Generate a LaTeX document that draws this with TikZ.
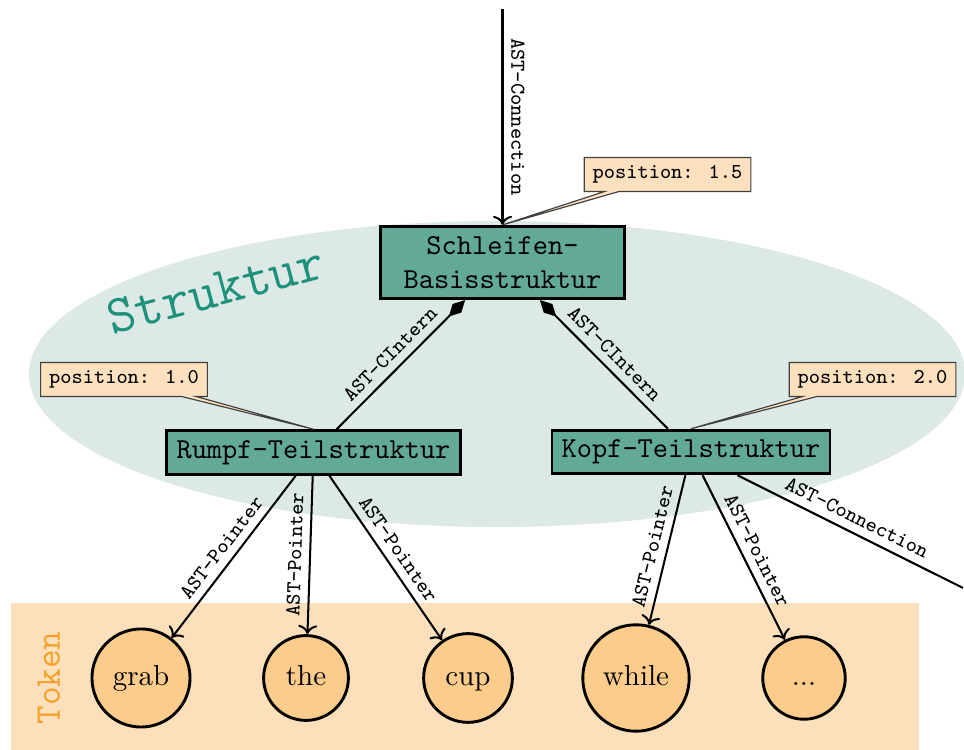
\documentclass[tikz,border=0pt]{standalone}
\usetikzlibrary{arrows.meta,shapes.callouts,calc}
\definecolor{boxteal}{RGB}{99,169,152}
\definecolor{ellfill}{RGB}{220,233,230}
\definecolor{strukcol}{RGB}{30,145,122}
\definecolor{posfill}{RGB}{253,225,190}
\definecolor{tokband}{RGB}{252,224,188}
\definecolor{tokfill}{RGB}{251,204,140}
\definecolor{tokcol}{RGB}{247,160,40}
\begin{document}
\begin{tikzpicture}[x=0.345pt,y=-0.345pt,
  struct/.style={draw=black, line width=1pt, fill=boxteal, font=\ttfamily, inner sep=3.33pt},
  posbox/.style={rectangle callout, draw=black!75, fill=posfill,
    font=\ttfamily\fontsize{7.3}{9}\selectfont, minimum width=57.5pt, minimum height=11.7pt,
    inner sep=2pt, callout pointer width=5pt, line width=0.4pt},
  tok/.style={circle, draw=black, line width=1pt, fill=tokfill, minimum size=1cm, inner sep=4.6pt,
    text height=6.94pt, text depth=1.94pt, font=\rmfamily},
  lbl/.style={font=\ttfamily\fontsize{7.3}{9}\selectfont, sloped, above, inner sep=2.6pt},
  conn/.style={line width=0.7pt},
  diam/.style={-{Diamond[length=8pt,width=4.2pt]}},
]
\useasboundingbox (0,0) rectangle (964,750);
\clip (0,0) rectangle (964,750);
% backgrounds
\fill[ellfill] (497,374) ellipse [x radius=161.5pt, y radius=52.8pt];
\fill[tokband] (11,603) rectangle (919,760);
\node[rotate=90, text=tokcol, font=\ttfamily\fontsize{12.5}{15}\selectfont] (toklbl) at (49,678) {Token};
\node[rotate=15, text=strukcol, font=\ttfamily\fontsize{18.6}{22}\selectfont, inner sep=0pt] (struklbl) at (216,290) {Struktur};
% structure nodes
\node[struct, align=center, minimum width=84pt, minimum height=24.2pt] (S) at (502.5,262.5) {Schleifen-\\Basisstruktur};
\node[struct] (R) at (313.5,452.5) {Rumpf-Teilstruktur};
\node[struct] (K) at (691,452) {Kopf-Teilstruktur};
% tokens
\node[tok] (t1) at (141,678) {grab};
\node[tok] (t2) at (306,678) {the};
\node[tok] (t3) at (468,678) {cup};
\node[tok] (t4) at (636,678) {while};
\node[tok] (t5) at (804,678) {...};
% connectors
\coordinate (top) at ($(S.north)+(0,-216)$);
\coordinate (kend) at (963,588);
\draw[conn,->] (top) -- node[lbl, allow upside down] {AST-Connection} (S.north);
\draw[conn,diam] (R) -- node[lbl] {AST-CIntern} (S);
\draw[conn,diam] (K) -- node[lbl] {AST-CIntern} (S);
\draw[conn,->] (R) -- node[lbl] {AST-Pointer} (t1);
\draw[conn,->] (R) -- node[lbl] {AST-Pointer} (t2);
\draw[conn,->] (R) -- node[lbl] {AST-Pointer} (t3);
\draw[conn,->] (K) -- node[lbl] {AST-Pointer} (t4);
\draw[conn,->] (K) -- node[lbl] {AST-Pointer} (t5);
\draw[conn] (K) -- node[lbl] {AST-Connection} (kend);
% position callouts
\node[posbox, callout absolute pointer={(S.north)}] (p15) at (667.5,174.5) {position: 1.5};
\node[posbox, callout absolute pointer={(R.north)}] (p10) at (124,379.5) {position: 1.0};
\node[posbox, callout absolute pointer={(K.north)}] (p20) at (872.5,379.5) {position: 2.0};
\end{tikzpicture}
\end{document}
